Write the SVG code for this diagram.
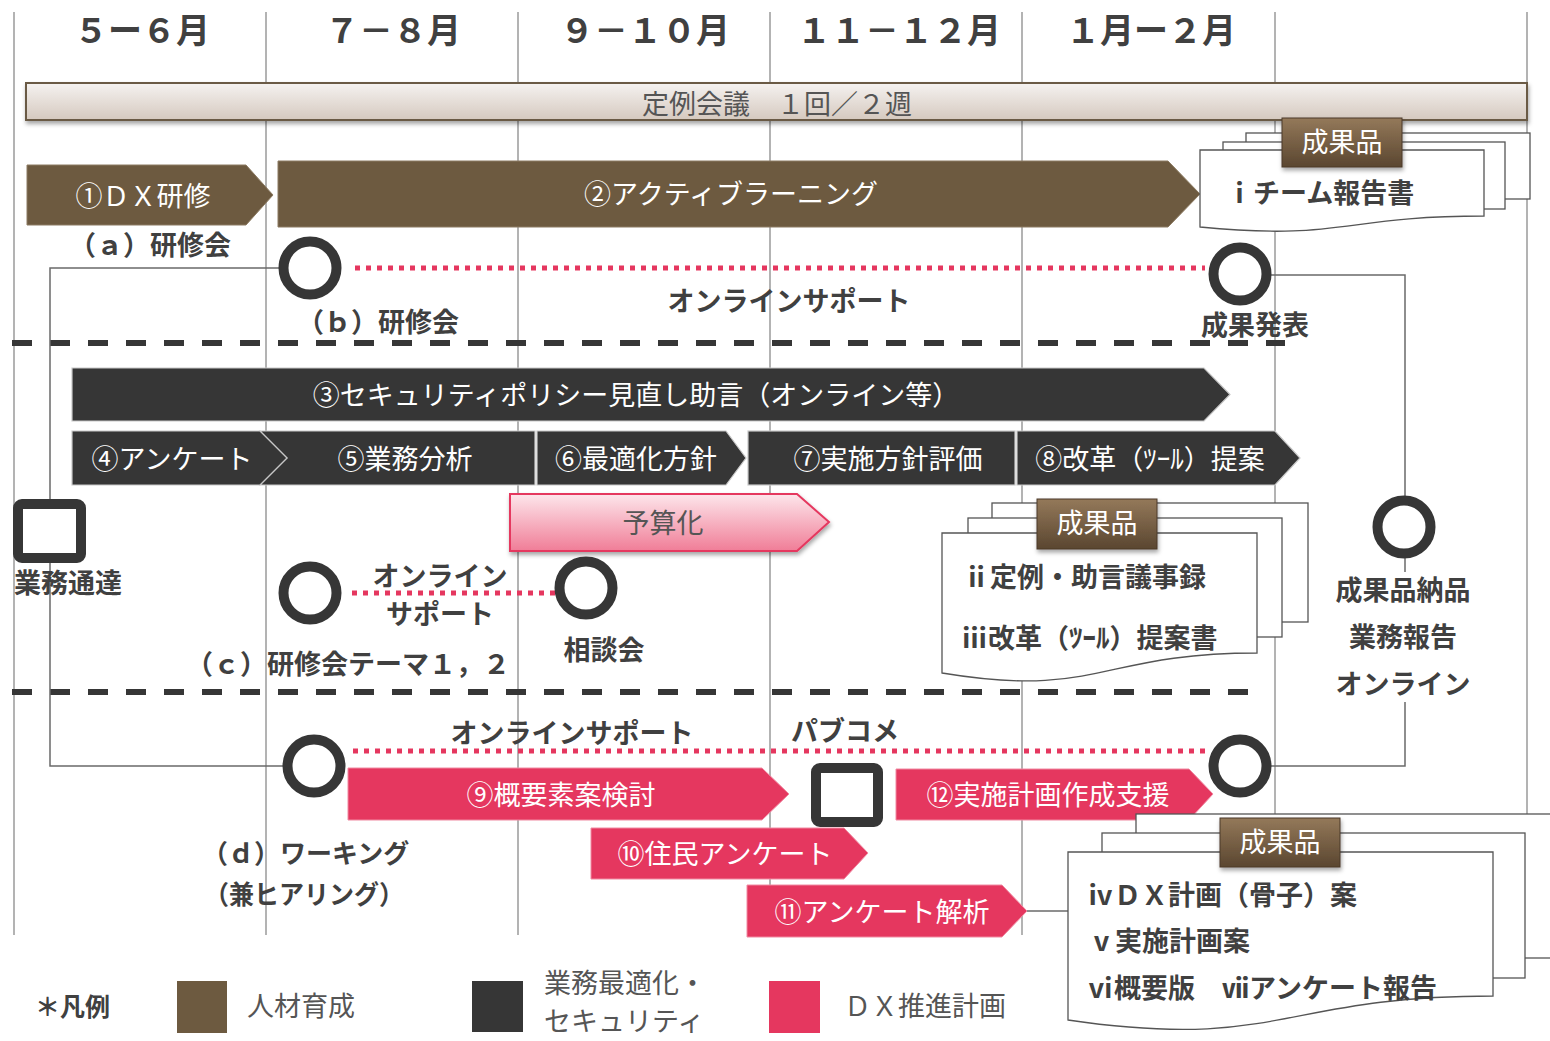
<svg xmlns="http://www.w3.org/2000/svg" width="1550" height="1041" viewBox="0 0 1550 1041">
<style>
text{font-family:"Noto Sans CJK JP","Noto Sans",sans-serif;dominant-baseline:central}
.mon{font-size:34px;font-weight:bold;fill:#404040;text-anchor:middle}
.grid{stroke:#8a8a8a;stroke-width:1.3;fill:none}
.sep{stroke:#363636;stroke-width:6;stroke-dasharray:20 18;fill:none}
.dot{stroke:#e5375f;stroke-width:5;stroke-dasharray:5 6;fill:none}
.conn{stroke:#6a6a6a;stroke-width:1.5;fill:none}
.brown{fill:#6d5a40;stroke:#8c7b62;stroke-width:1}
.dark{fill:#363636;stroke:#c8c8c8;stroke-width:1.2}
.pink{fill:#e5375f;stroke:#f08aa2;stroke-width:1}
.wt{fill:#fff;font-size:27px;text-anchor:middle}
.lb{fill:#404040;font-size:27px;font-weight:bold;text-anchor:middle}
.lbs{fill:#404040;font-size:26px;font-weight:bold}
.ring{fill:#fff;stroke:#363636;stroke-width:10}
.sq{fill:#fff;stroke:#363636;stroke-width:10}
.page{fill:#fff;stroke:#555;stroke-width:1.3}
.doct{fill:#404040;font-size:27px;font-weight:bold}
.badge{fill:url(#gBadge);stroke:#4a3a28;stroke-width:1;filter:url(#sh)}
.bt{fill:#fff;font-size:27px;text-anchor:middle}
.leg{fill:#555;font-size:27px}
</style>
<defs>
<linearGradient id="gBar" x1="0" y1="0" x2="0" y2="1">
<stop offset="0" stop-color="#f5f2f0"/><stop offset="1" stop-color="#d5c9bf"/>
</linearGradient>
<linearGradient id="gBadge" x1="0" y1="0" x2="0" y2="1">
<stop offset="0" stop-color="#94795a"/><stop offset="1" stop-color="#5a4630"/>
</linearGradient>
<linearGradient id="gPink" x1="0" y1="0" x2="0" y2="1">
<stop offset="0" stop-color="#fde6eb"/><stop offset="1" stop-color="#f07d97"/>
</linearGradient>
<filter id="sh" x="-10%" y="-20%" width="120%" height="160%">
<feDropShadow dx="1" dy="3" stdDeviation="2" flood-color="#000" flood-opacity="0.35"/>
</filter>
</defs>
<rect width="1550" height="1041" fill="#fff"/>

<g id="grid">
<line class="grid" x1="14" y1="12" x2="14" y2="935"/>
<line class="grid" x1="266" y1="12" x2="266" y2="935"/>
<line class="grid" x1="518" y1="12" x2="518" y2="935"/>
<line class="grid" x1="770" y1="12" x2="770" y2="935"/>
<line class="grid" x1="1022" y1="12" x2="1022" y2="935"/>
<line class="grid" x1="1275" y1="12" x2="1275" y2="935"/>
<line class="grid" x1="1527" y1="12" x2="1527" y2="935"/>
</g>

<g id="months">
<text class="mon" x="142" y="28">５ー６月</text>
<text class="mon" x="393" y="28">７－８月</text>
<text class="mon" x="645" y="28">９－１０月</text>
<text class="mon" x="899" y="28">１１－１２月</text>
<text class="mon" x="1151" y="28">１月ー２月</text>
</g>

<g id="separators">
<line class="sep" x1="12" y1="343" x2="1285" y2="343"/>
<line class="sep" x1="12" y1="692" x2="1258" y2="692"/>
</g>

<g id="meeting">
<rect x="26" y="83" width="1501" height="37" fill="url(#gBar)" stroke="#6b5a45" stroke-width="2" filter="url(#sh)"/>
<text x="777" y="102" fill="#555" font-size="27" text-anchor="middle">定例会議　１回／２週</text>
</g>

<g id="connectors">
<polyline class="conn" points="280,268 50,268 50,766 284,766"/>
<polyline class="conn" points="1271,275 1405,275 1405,498"/>
<line class="conn" x1="1405" y1="557" x2="1405" y2="572"/>
<polyline class="conn" points="1405,702 1405,766 1271,766"/>
<line class="conn" x1="1027" y1="911" x2="1068" y2="911"/>
<line class="dot" x1="355" y1="268" x2="1205" y2="268"/>
<line class="dot" x1="352" y1="593" x2="558" y2="593"/>
<line class="dot" x1="353" y1="751" x2="1205" y2="751"/>
</g>

<g id="n1"><polygon class="brown" points="27,165 246,165 273,195 246,225 27,225"/><text class="wt" x="143" y="194">①ＤＸ研修</text></g>
<g id="n2"><polygon class="brown" points="278,161 1168,161 1200,194 1168,227 278,227"/><text class="wt" x="731" y="192">②アクティブラーニング</text></g>
<g id="n3"><polygon class="dark" points="72,368 1204,368 1230,394.5 1204,421 72,421"/><text class="wt" x="636" y="393">③セキュリティポリシー見直し助言（オンライン等）</text></g>
<g id="n5"><polygon class="dark" points="260,431 535,431 535,485 260,485 287,458"/><text class="wt" x="405" y="457">⑤業務分析</text></g>
<g id="n4"><polygon class="dark" points="72,431 260,431 287,458 260,485 72,485"/><text class="wt" x="172" y="457">④アンケート</text></g>
<g id="n6"><polygon class="dark" points="537,431 726,431 746,458 726,485 537,485"/><text class="wt" x="636" y="457">⑥最適化方針</text></g>
<g id="n7"><rect class="dark" x="748" y="431" width="267" height="54"/><text class="wt" x="888" y="457">⑦実施方針評価</text></g>
<g id="n8"><polygon class="dark" points="1017,431 1275,431 1300,458 1275,485 1017,485"/><text class="wt" x="1150" y="457">⑧改革（ﾂｰﾙ）提案</text></g>
<g id="budget"><polygon points="510,494 797,494 829,522 797,551 510,551" fill="url(#gPink)" stroke="#e5375f" stroke-width="2" filter="url(#sh)"/><text x="663" y="521" fill="#555" font-size="27" text-anchor="middle">予算化</text></g>
<g id="n9"><polygon class="pink" points="348,768 762,768 789,794 762,820 348,820"/><text class="wt" x="561" y="793">⑨概要素案検討</text></g>
<g id="n12"><polygon class="pink" points="896,769 1189,769 1213,794 1189,820 896,820"/><text class="wt" x="1048" y="793">⑫実施計画作成支援</text></g>
<g id="n10"><polygon class="pink" points="591,828 844,828 868,853 844,879 591,879"/><text class="wt" x="725" y="852">⑩住民アンケート</text></g>
<g id="n11"><polygon class="pink" points="747,885 1002,885 1027,911 1002,937 747,937"/><text class="wt" x="882" y="910">⑪アンケート解析</text></g>

<g id="ev-a"><text class="lb" x="150" y="243" font-size="26">（ａ）研修会</text></g>
<g id="ev-b"><circle class="ring" cx="310" cy="268" r="26.5"/><text class="lb" x="378" y="320" font-size="26">（ｂ）研修会</text></g>
<g id="support1"><text class="lb" x="789" y="299">オンラインサポート</text></g>
<g id="ev-result"><circle class="ring" cx="1240" cy="274" r="26.5"/><text class="lb" x="1255" y="323">成果発表</text></g>
<g id="ev-notice"><rect class="sq" x="18" y="504" width="63" height="54" rx="4"/><text class="lb" x="68" y="581">業務通達</text></g>
<g id="ev-c"><circle class="ring" cx="310" cy="593" r="26.5"/><text class="lb" x="440" y="574">オンライン</text><text class="lb" x="440" y="612">サポート</text><text class="lb" x="348" y="662" font-size="26">（ｃ）研修会テーマ１，２</text></g>
<g id="ev-consult"><circle class="ring" cx="586" cy="588" r="26.5"/><text class="lb" x="604" y="648">相談会</text></g>
<g id="ev-deliver"><circle class="ring" cx="1404" cy="527" r="26.5"/><text class="lb" x="1403" y="588">成果品納品</text><text class="lb" x="1403" y="635">業務報告</text><text class="lb" x="1403" y="682">オンライン</text></g>
<g id="support3"><text class="lb" x="572" y="731">オンラインサポート</text></g>
<g id="ev-pubcom"><rect class="sq" x="816" y="768" width="62" height="54" rx="4"/><text class="lb" x="845" y="729">パブコメ</text></g>
<g id="ev-d"><circle class="ring" cx="314" cy="766" r="26.5"/><text class="lbs" x="202" y="851">（ｄ）ワーキング</text><text class="lbs" x="204" y="892" textLength="200" lengthAdjust="spacingAndGlyphs">（兼ヒアリング）</text></g>
<g id="ev-final"><circle class="ring" cx="1240" cy="766" r="26.5"/></g>

<g id="doc1">
<rect class="page" x="1246" y="133" width="284" height="66"/>
<rect class="page" x="1223" y="142" width="282" height="67"/>
<path class="page" d="M1200,150 H1484 V216 C1342,216 1342,241 1200,227 Z"/>
<rect class="badge" x="1282" y="118" width="120" height="49"/>
<text class="bt" x="1342" y="140">成果品</text>
<text class="doct" x="1226" y="191">ⅰチーム報告書</text>
</g>

<g id="doc2">
<rect class="page" x="992" y="503" width="316" height="119"/>
<rect class="page" x="968" y="518" width="314" height="119"/>
<path class="page" d="M942,533 H1257 V653 C1099,653 1099,699 942,673 Z"/>
<rect class="badge" x="1037" y="499" width="120" height="50"/>
<text class="bt" x="1097" y="521">成果品</text>
<text class="doct" x="963" y="575">ⅱ定例・助言議事録</text>
<text class="doct" x="961" y="636">ⅲ改革（ﾂｰﾙ）提案書</text>
</g>

<g id="doc3">
<rect class="page" x="1136" y="814" width="430" height="144"/>
<rect class="page" x="1102" y="833" width="423" height="145"/>
<path class="page" d="M1068,852 H1493 V996 C1280,996 1280,1051 1068,1020 Z"/>
<rect class="badge" x="1220" y="818" width="120" height="49"/>
<text class="bt" x="1280" y="840">成果品</text>
<text class="doct" x="1087" y="893">ⅳＤＸ計画（骨子）案</text>
<text class="doct" x="1088" y="939">ⅴ実施計画案</text>
<text class="doct" x="1087" y="986">ⅵ概要版　ⅶアンケート報告</text>
</g>

<g id="legend">
<text x="35" y="1005" fill="#404040" font-size="25" font-weight="bold">＊凡例</text>
<rect x="177" y="981" width="50" height="52" fill="#6d5a40"/>
<text class="leg" x="247" y="1004">人材育成</text>
<rect x="472" y="981" width="51" height="51" fill="#363636"/>
<text class="leg" x="544" y="981">業務最適化・</text>
<text class="leg" x="544" y="1019">セキュリティ</text>
<rect x="769" y="981" width="51" height="52" fill="#e5375f"/>
<text class="leg" x="844" y="1004">ＤＸ推進計画</text>
</g>
</svg>
